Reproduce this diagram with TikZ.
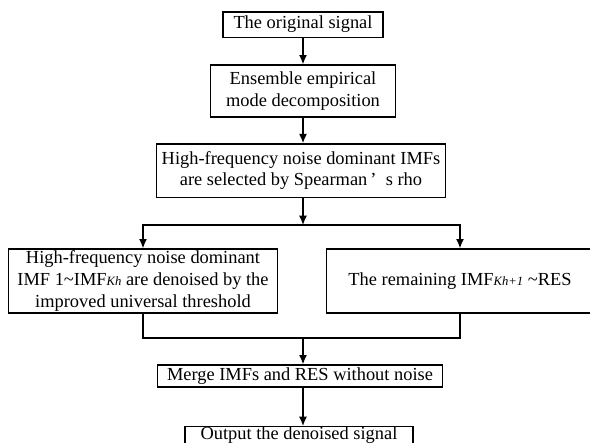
\documentclass[tikz,border=0pt]{standalone}
\usepackage{fontspec}
\setmainfont{Liberation Serif}
\usetikzlibrary{positioning,arrows.meta}
\newcommand{\kh}[1]{{\fontsize{9.5}{9.5}\selectfont\itshape #1}}
\tikzset{
  flowbox/.style={draw, line width=1pt, inner sep=0pt, align=center,
    font=\fontsize{13.8}{16.4}\selectfont}
}

\begin{document}
\begin{tikzpicture}[x=0.75pt,y=-0.75pt,>={Latex[length=7pt,width=6pt]},line width=1pt]
    \clip (0,0) rectangle (590,443);
    \node[flowbox, minimum width=120pt, minimum height=19pt] (orig) at (303,24.5) {The original signal};
    \node[flowbox, minimum width=139pt, minimum height=39pt] (eemd) at (303,91) {Ensemble empirical\\mode decomposition};
    \node[flowbox, minimum width=217pt, minimum height=40pt] (select) at (301,170.5) {High-frequency noise dominant IMFs\\are selected by Spearman\,’\enspace s rho};
    \node[flowbox, minimum width=202pt, minimum height=48pt] (denoise) at (143,281) {High-frequency noise dominant\\IMF 1\textasciitilde IMF\kh{Kh} are denoised by the\\improved universal threshold};
    \node[flowbox, minimum width=200pt, minimum height=48pt] (rest) at (460,281) {The remaining IMF\kh{Kh+1} \textasciitilde RES};
    \node[flowbox, minimum width=214pt, minimum height=16.5pt] (merge) at (300,376) {Merge IMFs and RES without noise};
    \node[flowbox, minimum width=171pt, text height=9.5pt, text depth=12pt, anchor=north] (out) at (299,426) {Output the denoised signal};
    \coordinate (split) at (303,225);
    \coordinate (join) at (303,338);
    \draw[->] (orig) -- (eemd);
    \draw[->] (eemd.south -| orig) -- (select.north -| orig);
    \draw[->] (select.south -| split) -- (split);
    \draw[->] (split) -| (denoise.north);
    \draw[->] (split) -| (rest.north);
    \draw (denoise.south) |- (join);
    \draw (rest.south) |- (join);
    \draw[->] (join) -- (merge.north -| join);
    \draw[->] (merge.south -| join) -- (out.north -| join);
  \end{tikzpicture}
\end{document}
